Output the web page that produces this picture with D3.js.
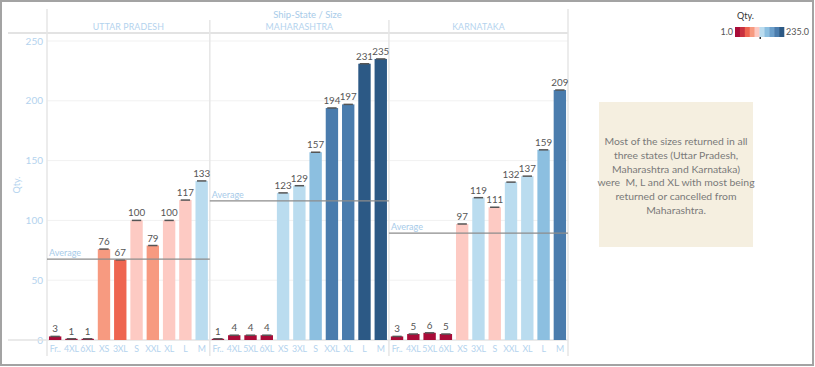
<!DOCTYPE html>
<html><head><meta charset="utf-8">
<script src="https://cdn.jsdelivr.net/npm/d3@7"></script>
<style>
body{margin:0;background:#fff;}
svg{display:block;font-family:Lato,"Open Sans",sans-serif;}
.note{white-space:pre;}
</style></head>
<body><svg id="c" width="815" height="367"></svg>
<script>
const states = ["UTTAR PRADESH","MAHARASHTRA","KARNATAKA"];
const upSizes = ["Fr..","4XL","6XL","XS","3XL","S","XXL","XL","L","M"];
const upQty   = [3,1,1,76,67,100,79,100,117,133];
const mhSizes = ["Fr..","4XL","5XL","6XL","XS","3XL","S","XXL","XL","L","M"];
const mhQty   = [1,4,4,4,123,129,157,194,197,231,235];
const kaSizes = ["Fr..","4XL","5XL","6XL","XS","3XL","S","XXL","XL","L","M"];
const kaQty   = [3,5,6,5,97,119,111,132,137,159,209];
const yTicks  = [0,50,100,150,200,250];
const legendMin = 1, legendMax = 235;
const palette = ["#a90c38","#c8303e","#ee6550","#f79a80","#fdcac3","#badcef","#8cbfe0","#6b9fcb","#4a7cad","#2c5985"];
const noteLines = ["Most of the sizes returned in all","three states (Uttar Pradesh,","Maharashtra and Karnataka)","were  M, L and XL with most being","returned or cancelled from","Maharashtra."];

(function(){
const groups = [
  {state: states[0], sizes: upSizes, qty: upQty},
  {state: states[1], sizes: mhSizes, qty: mhQty},
  {state: states[2], sizes: kaSizes, qty: kaQty}
];
const rows = [];
groups.forEach(g => g.sizes.forEach((s,i) => rows.push({state:g.state, size:s, qty:g.qty[i], key:g.state+"|"+s})));

const svg = d3.select("#c");
const pL = 47, pR = 568, pT = 41, base = 340;
const x = d3.scaleBand().domain(rows.map(d=>d.key)).range([pL,pR]).paddingInner(0.24).paddingOuter(0.12);
const y = d3.scaleLinear().domain([0,250]).range([base, pT]);
const color = d3.scaleQuantize().domain([legendMin,legendMax]).range(palette);

svg.append("rect").attr("x",1).attr("y",1).attr("width",812).attr("height",364)
  .attr("fill","none").attr("stroke","#a3a3a3").attr("stroke-width",2);

svg.append("g").selectAll("line").data(yTicks.filter(t=>t>0)).join("line")
  .attr("x1",pL).attr("x2",pR).attr("y1",d=>y(d)).attr("y2",d=>y(d))
  .attr("stroke","#f1f1f1").attr("stroke-width",1);

svg.append("g").selectAll("text").data(yTicks).join("text")
  .attr("x",43).attr("y",d=>y(d)+3.5).attr("text-anchor","end")
  .attr("font-size",10).attr("fill","#b4d3ee").text(d=>d);

svg.append("text").attr("transform",`translate(20,185) rotate(-90)`)
  .attr("text-anchor","middle").attr("font-size",9).attr("fill","#b4d3ee").text("Qty.");

const bounds = [pL];
for (let i=1;i<groups.length;i++){
  const prevLast = groups[i-1].state+"|"+groups[i-1].sizes[groups[i-1].sizes.length-1];
  const curFirst = groups[i].state+"|"+groups[i].sizes[0];
  bounds.push((x(prevLast)+x.bandwidth()+x(curFirst))/2);
}
bounds.push(pR);

svg.append("text").attr("x",(pL+pR)/2).attr("y",18).attr("text-anchor","middle")
  .attr("font-size",9.5).attr("fill","#a8cbe9").text("Ship-State / Size");
groups.forEach((g,i)=>{
  svg.append("text").attr("x",(bounds[i]+bounds[i+1])/2).attr("y",30).attr("text-anchor","middle")
    .attr("font-size",8.8).attr("fill","#b4d3ee").attr("letter-spacing",0.1).text(g.state);
});
svg.append("line").attr("x1",8).attr("x2",pR).attr("y1",33).attr("y2",33).attr("stroke","#e3e3e3").attr("stroke-width",2);
svg.append("line").attr("x1",8).attr("x2",pR).attr("y1",base).attr("y2",base).attr("stroke","#e3e3e3").attr("stroke-width",1.5);
svg.append("line").attr("x1",pL).attr("x2",pL).attr("y1",9).attr("y2",356).attr("stroke","#e6e6e6").attr("stroke-width",1.5);
svg.append("line").attr("x1",pR).attr("x2",pR).attr("y1",9).attr("y2",356).attr("stroke","#e6e6e6").attr("stroke-width",1.5);
for (let i=1;i<bounds.length-1;i++){
  svg.append("line").attr("x1",bounds[i]).attr("x2",bounds[i]).attr("y1",20).attr("y2",356).attr("stroke","#e6e6e6").attr("stroke-width",1.5);
}

svg.append("g").selectAll("rect").data(rows).join("rect")
  .attr("x",d=>x(d.key)).attr("width",x.bandwidth())
  .attr("y",d=>y(d.qty)).attr("height",d=>base-y(d.qty))
  .attr("fill",d=>color(d.qty));
svg.append("g").selectAll("line").data(rows).join("line")
  .attr("x1",d=>x(d.key)+1.5).attr("x2",d=>x(d.key)+x.bandwidth()-1.5)
  .attr("y1",d=>y(d.qty)).attr("y2",d=>y(d.qty))
  .attr("stroke","#555").attr("stroke-width",1.5);
svg.append("g").selectAll("text").data(rows).join("text")
  .attr("x",d=>x(d.key)+x.bandwidth()/2).attr("y",d=>y(d.qty)-4)
  .attr("text-anchor","middle").attr("font-size",9.8).attr("fill","#555").text(d=>d.qty);
svg.append("g").selectAll("text").data(rows).join("text")
  .attr("x",d=>x(d.key)+x.bandwidth()/2).attr("y",352)
  .attr("text-anchor","middle").attr("font-size",8.8).attr("letter-spacing",-0.2).attr("fill","#b4d3ee").text(d=>d.size);

groups.forEach((g,i)=>{
  const avg = d3.mean(g.qty);
  svg.append("line").attr("x1",bounds[i]).attr("x2",bounds[i+1]).attr("y1",y(avg)).attr("y2",y(avg))
    .attr("stroke","#8c8c8c").attr("stroke-width",1.2);
  svg.append("text").attr("x",bounds[i]+2).attr("y",y(avg)-3).attr("font-size",9)
    .attr("fill","#a8cbe9").text("Average");
});

svg.append("rect").attr("x",599).attr("y",102).attr("width",154).attr("height",145).attr("fill","#f5efe0");
svg.append("g").selectAll("text").data(noteLines).join("text").attr("class","note")
  .attr("x",676).attr("y",(d,i)=>145+i*13.8).attr("text-anchor","middle")
  .attr("font-size",10.4).attr("fill","#7a7a7a").text(d=>d);

svg.append("text").attr("x",737).attr("y",19).attr("font-size",9).attr("fill","#333").text("Qty.");
const lx = 735, lw = 49;
const lscale = d3.scaleLinear().domain([0,palette.length]).range([lx,lx+lw]);
svg.append("g").selectAll("rect").data(palette).join("rect")
  .attr("x",(d,i)=>lscale(i)).attr("y",27).attr("width",lw/palette.length+0.3).attr("height",10)
  .attr("fill",d=>d);
svg.append("text").attr("x",lx-2).attr("y",35).attr("text-anchor","end").attr("font-size",9).attr("fill","#555").text(legendMin.toFixed(1));
svg.append("text").attr("x",lx+lw+2).attr("y",35).attr("font-size",9).attr("fill","#555").text(legendMax.toFixed(1));
svg.append("rect").attr("x",759.5).attr("y",37).attr("width",1.5).attr("height",2).attr("fill","#333");
})();
</script></body></html>
